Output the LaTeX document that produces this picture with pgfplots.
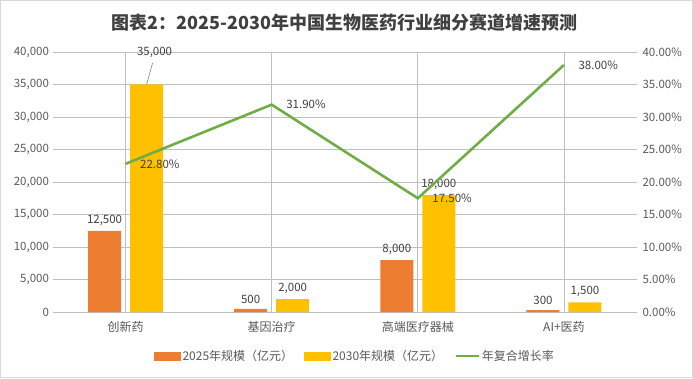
\documentclass[border=0pt]{standalone}
\usepackage{pgfplots}
\usepackage{pgfplotstable}
\pgfplotsset{compat=1.18}
\usepackage{fontspec}
\setmainfont{Noto Sans CJK SC}
\definecolor{cA}{HTML}{ED7D31}
\definecolor{cB}{HTML}{FFC000}
\definecolor{cL}{HTML}{70AD47}
\definecolor{grid}{HTML}{D9D9D9}
\definecolor{tick}{HTML}{595959}
\definecolor{lab}{HTML}{404040}
\pgfplotstableread{
x y
0 12500
1 500
2 8000
3 300
}\tabA
\pgfplotstableread{
x y lab
0 35000 {}
1 2000 2,000
2 18000 18,000
3 1500 1,500
}\tabB
\pgfplotstableread{
x y
0 22.8
1 31.9
2 17.5
3 38.0
}\tabL
\begin{document}
\begin{tikzpicture}[x=1pt,y=1pt]
\useasboundingbox (0,0) rectangle (693,378);
\draw[grid, line width=0.8pt] (0.5,0.5) rectangle (692.5,377.5);
\node[font=\bfseries\fontsize{18}{20}\selectfont, text=lab] at (344.5,355) {图表2：2025-2030年中国生物医药行业细分赛道增速预测};
\begin{axis}[
  at={(52.5pt,66pt)}, anchor=south west,
  width=584.5pt, height=260pt, scale only axis,
  xmin=-0.5, xmax=3.5, ymin=0, ymax=40000,
  xtick={0,1,2,3}, xticklabels={创新药,基因治疗,高端医疗器械,AI+医药},
  ytick={0,5000,...,40000},
  ymajorgrids, grid style={grid, line width=0.8pt},
  axis line style={draw=none},
  major tick length=0pt,
  tick label style={font=\fontsize{11.5}{13}\selectfont, text=tick},
  xticklabel style={font=\fontsize{12}{14}\selectfont, text=tick, yshift=-6pt},
  /pgf/number format/.cd, fixed, 1000 sep={,}, assume math mode=true,
  /pgfplots/.cd,
  scaled y ticks=false,
  ybar=9pt, bar width=33pt,
  clip=false,
  nodes near coords,
  nodes near coords style={font=\fontsize{11.5}{13}\selectfont, text=lab, anchor=south, yshift=2pt},
]
\addplot[fill=cA, draw=none] table[x=x,y=y] {\tabA};
\addplot[fill=cB, draw=none, point meta=explicit symbolic] table[x=x,y=y,meta=lab] {\tabB};
\draw[gray, line width=0.6pt] ([xshift=21pt]axis cs:0,35000) -- ([xshift=27pt]axis cs:0,38300);
\node[font=\fontsize{11.5}{13}\selectfont, text=lab] at ([xshift=29pt]axis cs:0,40000) {35,000};
\end{axis}
\begin{axis}[
  at={(52.5pt,66pt)}, anchor=south west,
  width=584.5pt, height=260pt, scale only axis,
  xmin=-0.5, xmax=3.5, ymin=0, ymax=40,
  axis x line=none,
  axis y line*=right,
  axis line style={draw=none},
  major tick length=0pt,
  ytick={0,5,...,40},
  yticklabel={\pgfmathprintnumber[fixed,fixed zerofill,precision=2,assume math mode=true]{\tick}\%},
  tick label style={font=\fontsize{11.5}{13}\selectfont, text=tick},
  yticklabel style={xshift=2pt},
  clip=false,
  legend style={at={(0.5175,-0.169)}, anchor=center, draw=none, fill=none,
    legend columns=3, font=\fontsize{12}{14}\selectfont, text=tick,
    /tikz/every even column/.append style={column sep=9pt}},
]
\addlegendimage{legend image code/.code={\fill[cA] (0pt,-4pt) rectangle (26pt,4pt);}}
\addlegendentry{2025年规模（亿元）}
\addlegendimage{legend image code/.code={\fill[cB] (0pt,-4pt) rectangle (26pt,4pt);}}
\addlegendentry{2030年规模（亿元）}
\addplot[cL, line width=2.6pt, mark=none,
  nodes near coords={\pgfmathprintnumber[fixed,fixed zerofill,precision=2,assume math mode=true]{\pgfplotspointmeta}\%},
  nodes near coords style={font=\fontsize{11.5}{13}\selectfont, text=lab, anchor=west, xshift=10pt},
  legend image code/.code={\draw[cL, line width=2.6pt] (0pt,0pt) -- (23pt,0pt);}
] table[x=x,y=y] {\tabL};
\addlegendentry{年复合增长率}
\end{axis}
\end{tikzpicture}
\end{document}
